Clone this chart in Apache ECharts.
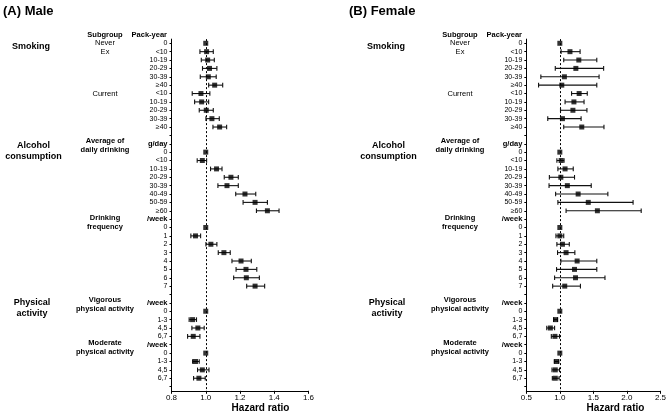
<!DOCTYPE html>
<html>
<head>
<meta charset="utf-8">
<script src="https://cdn.jsdelivr.net/npm/echarts@6/dist/echarts.min.js"></script>
<style>html,body{margin:0;padding:0;background:#fff;}#c{width:669px;height:414px;}</style>
</head>
<body>
<div id="c"></div>
<script>
// ---- Row (tick) labels, top to bottom ----
const rowLabels = ["0","<10","10-19","20-29","30-39","≥40","<10","10-19","20-29","30-39","≥40","",
  "g/day","0","<10","10-19","20-29","30-39","40-49","50-59","≥60",
  "/week","0","1","2","3","4","5","6","7","",
  "/week","0","1-3","4,5","6,7",
  "/week","0","1-3","4,5","6,7",""];
const boldLabels = ["g/day","/week"];

// first row index of each block
const smokingStart = 0, dailyStart = 13, freqStart = 22, vigStart = 32, modStart = 37;

// ---- Male ----
const maleSmokingHR = [1.000,1.005,1.011,1.022,1.015,1.052,0.972,0.976,1.003,1.036,1.081];
const maleSmokingLo = [null,0.966,0.974,0.981,0.968,1.017,0.921,0.935,0.962,1.001,1.042];
const maleSmokingHi = [null,1.044,1.050,1.065,1.061,1.099,1.024,1.017,1.044,1.079,1.122];
const maleDailyHR = [1.000,0.980,1.063,1.147,1.124,1.229,1.288,1.360];
const maleDailyLo = [null,0.950,1.028,1.108,1.071,1.175,1.218,1.296];
const maleDailyHi = [null,1.005,1.095,1.190,1.190,1.292,1.360,1.428];
const maleFreqHR = [1.000,0.940,1.030,1.106,1.206,1.235,1.237,1.288];
const maleFreqLo = [null,0.913,1.001,1.073,1.153,1.177,1.163,1.239];
const maleFreqHi = [null,0.970,1.065,1.143,1.266,1.298,1.313,1.344];
const maleVigHR = [1.000,0.923,0.954,0.927];
const maleVigLo = [null,0.903,0.919,0.894];
const maleVigHi = [null,0.946,0.991,0.966];
const maleModHR = [1.000,0.940,0.980,0.960];
const maleModLo = [null,0.923,0.952,0.929];
const maleModHi = [null,0.962,1.019,0.997];

// ---- Female ----
const femaleSmokingHR = [1.000,1.151,1.283,1.239,1.068,1.029,1.288,1.210,1.195,1.039,1.327];
const femaleSmokingLo = [null,1.019,1.058,0.932,0.717,0.683,1.175,1.078,1.010,0.820,1.058];
const femaleSmokingHi = [null,1.302,1.551,1.653,1.585,1.551,1.409,1.361,1.404,1.317,1.658];
const femaleDailyHR = [1.000,1.019,1.078,1.015,1.112,1.273,1.424,1.560];
const femaleDailyLo = [null,0.956,0.971,0.844,0.839,0.937,0.971,1.093];
const femaleDailyHi = [null,1.063,1.200,1.219,1.468,1.716,2.092,2.213];
const femaleFreqHR = [1.000,1.000,1.039,1.093,1.258,1.219,1.234,1.073];
const femaleFreqLo = [null,0.942,0.956,0.966,1.015,0.951,0.922,0.893];
const femaleFreqHi = [null,1.058,1.141,1.224,1.551,1.551,1.673,1.307];
const femaleVigHR = [1.000,0.937,0.859,0.927];
const femaleVigLo = [null,0.907,0.805,0.873];
const femaleVigHi = [null,0.966,0.922,0.995];
const femaleModHR = [1.000,0.951,0.932,0.932];
const femaleModLo = [null,0.917,0.883,0.888];
const femaleModHi = [null,0.985,0.995,0.990];

// x-axis ticks
const maleXTicks = [0.8, 1.0, 1.2, 1.4, 1.6];
const femaleXTicks = [0.5, 1.0, 1.5, 2.0, 2.5];

function collect(blocks) {
  const pts = [], cis = [];
  blocks.forEach(([start, hr, lo, hi]) => {
    hr.forEach((v, i) => {
      pts.push([v, start + i]);
      if (lo[i] != null) cis.push([lo[i], hi[i], start + i]);
    });
  });
  return { pts, cis };
}
const male = collect([
  [smokingStart, maleSmokingHR, maleSmokingLo, maleSmokingHi],
  [dailyStart, maleDailyHR, maleDailyLo, maleDailyHi],
  [freqStart, maleFreqHR, maleFreqLo, maleFreqHi],
  [vigStart, maleVigHR, maleVigLo, maleVigHi],
  [modStart, maleModHR, maleModLo, maleModHi]
]);
const female = collect([
  [smokingStart, femaleSmokingHR, femaleSmokingLo, femaleSmokingHi],
  [dailyStart, femaleDailyHR, femaleDailyLo, femaleDailyHi],
  [freqStart, femaleFreqHR, femaleFreqLo, femaleFreqHi],
  [vigStart, femaleVigHR, femaleVigLo, femaleVigHi],
  [modStart, femaleModHR, femaleModLo, femaleModHi]
]);

const FONT = '"Liberation Sans", Arial, sans-serif';
const TOP = 39.1, HEIGHT = 351.7;
const ROWH = HEIGHT / rowLabels.length;
const rowY = r => TOP + (r + 0.5) * ROWH;
const grids = [
  { left: 171.5, top: TOP, width: 137, height: HEIGHT },
  { left: 526.3, top: TOP, width: 137.3, height: HEIGHT }
];

function xAxis(gi, ticks) {
  return {
    type: 'value', gridIndex: gi,
    min: ticks[0], max: ticks[ticks.length - 1], interval: ticks[1] - ticks[0],
    axisLine: { show: true, lineStyle: { color: '#000', width: 1 } },
    axisTick: { show: true, length: 3, lineStyle: { color: '#000' } },
    splitLine: { show: false },
    axisLabel: { margin: 3, fontSize: 8, color: '#000', fontFamily: FONT, formatter: v => v.toFixed(1) }
  };
}
function yAxis(gi) {
  return {
    type: 'category', gridIndex: gi, inverse: true,
    data: rowLabels, boundaryGap: true,
    axisLine: { show: true, lineStyle: { color: '#000', width: 1 } },
    axisTick: { show: true, length: 2, alignWithLabel: true, interval: 0, lineStyle: { color: '#000' } },
    splitLine: { show: false },
    axisLabel: {
      interval: 0, margin: 4, fontSize: 7, color: '#000', fontFamily: FONT,
      formatter: (v, i) => boldLabels.includes(rowLabels[i]) ? '{b|' + rowLabels[i] + '}' : rowLabels[i],
      rich: { b: { fontWeight: 'bold', fontSize: 7.5, fontFamily: FONT, color: '#000' } }
    }
  };
}
function ciSeries(gi, data) {
  return {
    type: 'custom', xAxisIndex: gi, yAxisIndex: gi, data: data,
    encode: { x: [0, 1], y: 2 }, silent: true, z: 3,
    renderItem: (params, api) => {
      const r = api.value(2);
      const a = api.coord([api.value(0), r]);
      const b = api.coord([api.value(1), r]);
      const st = { stroke: '#111', lineWidth: 1.1 };
      const c = 2.3;
      return { type: 'group', children: [
        { type: 'line', shape: { x1: a[0], y1: a[1], x2: b[0], y2: b[1] }, style: st },
        { type: 'line', shape: { x1: a[0], y1: a[1] - c, x2: a[0], y2: a[1] + c }, style: st },
        { type: 'line', shape: { x1: b[0], y1: b[1] - c, x2: b[0], y2: b[1] + c }, style: st }
      ]};
    }
  };
}
function ptSeries(gi, data) {
  return {
    type: 'scatter', xAxisIndex: gi, yAxisIndex: gi, data: data,
    symbol: 'rect', symbolSize: 5, itemStyle: { color: '#000' }, z: 4, silent: true,
    markLine: {
      silent: true, symbol: ['none', 'none'], label: { show: false },
      lineStyle: { color: '#000', type: [2, 2], width: 1 },
      data: [{ xAxis: 1 }], z: 1
    }
  };
}

function panelTexts(dx, title, titleX) {
  const t = (text, x, y, opts) => ({
    type: 'text', x: x, y: y, silent: true,
    style: Object.assign({ text: text, fill: '#000', textAlign: 'center', textVerticalAlign: 'middle',
      font: '7.5px ' + FONT }, opts || {})
  });
  const B = s => ({ font: 'bold ' + s + 'px ' + FONT });
  return [
    t(title, titleX, 11, Object.assign(B(13), { textAlign: 'left' })),
    t('Subgroup', 105 + dx, rowY(-1), B(7.5)),
    t('Pack-year', 167 + dx, rowY(-1), Object.assign(B(7.5), { textAlign: 'right' })),
    t('Smoking', 31 + dx, 47, B(9)),
    t('Never', 105 + dx, rowY(0)),
    t('Ex', 105 + dx, rowY(1)),
    t('Current', 105 + dx, rowY(6)),
    t('Alcohol', 33.5 + dx, 145.7, B(9)),
    t('consumption', 33.5 + dx, 156.7, B(9)),
    t('Average of', 105 + dx, 141, B(7.5)),
    t('daily drinking', 105 + dx, 150, B(7.5)),
    t('Drinking', 105 + dx, 217.7, B(7.5)),
    t('frequency', 105 + dx, 227.3, B(7.5)),
    t('Physical', 32 + dx, 302.7, B(9)),
    t('activity', 32 + dx, 313.3, B(9)),
    t('Vigorous', 105 + dx, 300, B(7.5)),
    t('physical activity', 105 + dx, 309.3, B(7.5)),
    t('Moderate', 105 + dx, 342.7, B(7.5)),
    t('physical activity', 105 + dx, 351.7, B(7.5)),
    t('Hazard ratio', 260.5 + dx, 408, B(10))
  ];
}

const chart = echarts.init(document.getElementById('c'), null, { renderer: 'canvas' });
chart.setOption({
  animation: false,
  backgroundColor: '#fff',
  grid: grids,
  xAxis: [xAxis(0, maleXTicks), xAxis(1, femaleXTicks)],
  yAxis: [yAxis(0), yAxis(1)],
  series: [
    ciSeries(0, male.cis), ptSeries(0, male.pts),
    ciSeries(1, female.cis), ptSeries(1, female.pts)
  ],
  graphic: panelTexts(0, '(A) Male', 3).concat(panelTexts(355, '(B) Female', 349))
});
</script>
</body>
</html>
